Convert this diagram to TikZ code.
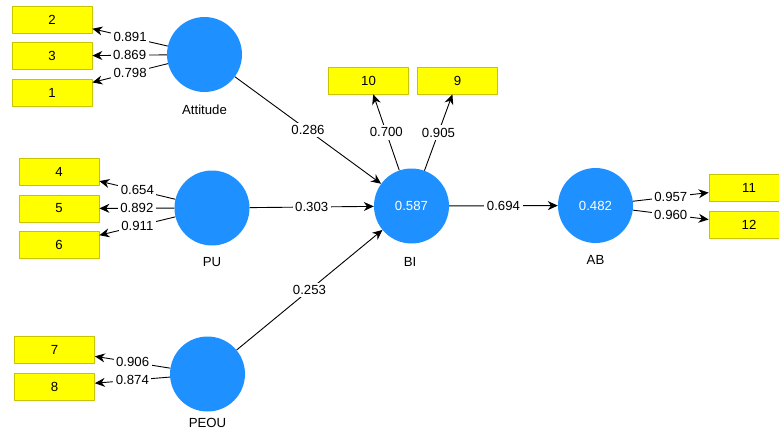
\documentclass[tikz,border=0pt]{standalone}
\usepackage{fontspec}
\setmainfont{Liberation Sans}
\usetikzlibrary{arrows.meta}
\definecolor{xanh}{HTML}{1E90FF}
\definecolor{vang}{HTML}{FFFF00}
\definecolor{vienvang}{HTML}{C9C400}
\begin{document}
\begin{tikzpicture}[x=1pt, y=-1pt, >={Stealth[length=10pt,width=9pt]}, line join=round, font=\fontsize{13.2}{15}\selectfont,
 bien/.style={circle, fill=xanh, minimum size=75pt, inner sep=0pt, text=white},
 chiso/.style={rectangle, fill=vang, draw=vienvang, line width=0.8pt, minimum width=80pt, minimum height=27pt, inner sep=0pt},
 hs/.style={midway, fill=white, inner sep=2.5pt},
 duong/.style={->, line width=0.9pt}]
\useasboundingbox (0,0) rectangle (779,431);
% Các biến tiềm ẩn
\node[bien] (att) at (204.5,54.5) {};
\node[bien] (pu) at (212,208) {};
\node[bien] (peou) at (207.5,374) {};
\node[bien] (bi) at (411.5,206) {0.587};
\node[bien] (ab) at (595.5,205.5) {0.482};
% Tên biến
\node (tatt) at (204.5,110) {Attitude};
\node (tpu) at (212,262) {PU};
\node (tpeou) at (207.5,423) {PEOU};
\node (tbi) at (410,262) {BI};
\node (tab) at (595.5,260) {AB};
% Các chỉ số quan sát
\node[chiso] (c2) at (52,19.5) {2};
\node[chiso] (c3) at (52,56) {3};
\node[chiso] (c1) at (52,92.5) {1};
\node[chiso] (c4) at (59,171.5) {4};
\node[chiso] (c5) at (59,208.5) {5};
\node[chiso] (c6) at (59,245) {6};
\node[chiso] (c7) at (54.5,350) {7};
\node[chiso] (c8) at (54.5,386.5) {8};
\node[chiso] (c10) at (368.5,80.5) {10};
\node[chiso] (c9) at (457.5,80.5) {9};
\node[chiso] (c11) at (749,188) {11};
\node[chiso] (c12) at (749,224.5) {12};
% Hệ số tải
\foreach \a/\b/\h in {att/c2/0.891, att/c3/0.869, att/c1/0.798,
  pu/c4/0.654, pu/c5/0.892, pu/c6/0.911, peou/c7/0.906, peou/c8/0.874,
  bi/c10/0.700, bi/c9/0.905, ab/c11/0.957, ab/c12/0.960}
\draw[duong] (\a) -- (\b) node[hs] {\h};
% Hệ số đường dẫn
\foreach \a/\h in {att/0.286, pu/0.303, peou/0.253}
\draw[duong] (\a) -- (bi) node[hs] {\h};
\draw[duong] (bi) -- (ab) node[hs] {0.694};
\end{tikzpicture}
\end{document}
